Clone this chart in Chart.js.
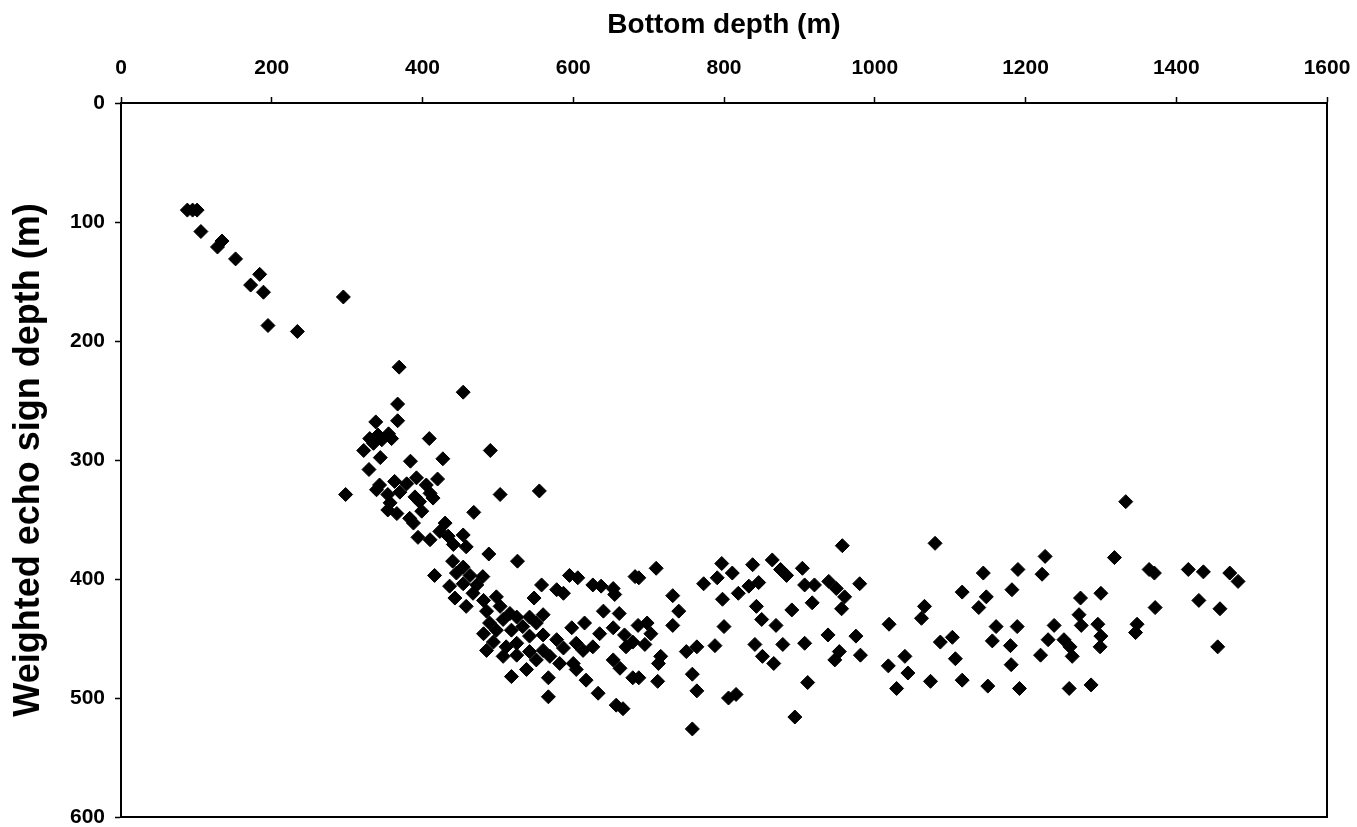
<!DOCTYPE html>
<html>
<head>
<meta charset="utf-8">
<script src="https://cdn.jsdelivr.net/npm/chart.js"></script>
<style>
  body { margin: 0; background: #fff; }
</style>
</head>
<body>
<canvas id="scatter1" width="1357" height="827"></canvas>
<script>
// bottom depth (m) and weighted echo sign depth (m)
const bottomDepth = [
    88, 95, 101, 106, 128, 134, 152, 184, 172, 189, 295, 195, 234,
    369, 454, 367, 338, 367, 409, 322, 490, 344, 384, 427, 329, 420, 298, 503,
    330, 341, 355, 359, 335, 346,
    555,
    343, 363, 379, 392, 405, 339, 354, 370, 390, 410, 357, 396, 414, 354, 366, 383, 399, 388,
    468,
    394, 410, 430, 423, 434, 454, 458, 441,
    488, 526, 416,
    440, 454, 445, 463, 480, 436, 454, 472, 443, 458, 467, 481, 498,
    485, 503, 516, 489, 507, 525, 542, 481, 498, 518, 533, 551, 485, 494, 511, 525, 542, 560, 578,
    507, 525, 542, 560, 551, 569, 587, 604, 613, 626, 582, 600, 518, 538, 567, 604, 617, 567, 633, 657, 666,
    548, 558, 578, 587, 595, 606, 626, 637, 653, 655, 682, 640, 661, 598, 615, 635, 653, 668, 686,
    670, 679, 653, 662, 679, 560,
    687, 710, 957, 1080, 732, 740, 732, 698, 703, 695, 716, 713, 687, 712, 750, 764, 758, 764, 806, 816,
    758, 773, 791, 797, 811, 798, 800, 788, 819, 833, 846, 838, 864, 875, 883, 843, 850, 869, 841, 878,
    851, 866, 890, 904, 907, 920, 939, 949, 960, 917, 956, 980, 907, 938, 975, 953, 947, 981, 911, 894,
    1019, 1066, 1062, 1040, 1018, 1044, 1029, 1074, 1087, 1103, 1107, 1116, 1116, 1144, 1148, 1138,
    1161, 1156, 1180, 1189, 1182, 1190, 1181, 1150, 1192, 1226, 1222, 1238, 1230, 1220, 1251, 1259,
    1262, 1273, 1271, 1274, 1300, 1296, 1300, 1299, 1258, 1287, 1318, 1348, 1346, 1364, 1371, 1372,
    1416, 1436, 1430, 1458, 1455, 1471, 1482, 1333
];
const echoDepth = [
    90, 90, 90, 108, 121, 116, 131, 144, 153, 159, 163, 187, 192,
    222, 243, 253, 268, 267, 282, 292, 292, 298, 301, 299, 308, 316, 329, 329,
    282, 279, 278, 282, 286, 283,
    326,
    321, 318, 320, 315, 321, 325, 329, 327, 331, 328, 336, 335, 332, 342, 345, 349, 343, 353,
    344,
    365, 367, 353, 360, 364, 363, 373, 371,
    379, 385, 397,
    385, 390, 395, 397, 398, 406, 404, 405, 416, 423, 412, 418, 415,
    427, 423, 429, 437, 434, 432, 432, 446, 443, 443, 440, 437, 460, 453, 457, 454, 448, 447, 451,
    465, 464, 461, 460, 468, 465, 458, 454, 460, 457, 471, 471, 482, 476, 483, 476, 485, 499, 496, 506, 509,
    416, 405, 409, 412, 397, 399, 405, 406, 408, 413, 398, 427, 429, 441, 437, 446, 441, 447, 439,
    457, 453, 468, 475, 483, 430,
    399, 391, 372, 370, 414, 427, 439, 437, 446, 455, 465, 471, 483, 486, 461, 457, 480, 494, 500, 497,
    526, 404, 399, 387, 395, 417, 440, 456, 412, 406, 403, 388, 384, 392, 397, 423, 434, 439, 455, 455,
    465, 471, 426, 391, 405, 405, 402, 408, 415, 420, 425, 404, 454, 447, 448, 461, 468, 464, 487, 516,
    438, 423, 433, 465, 473, 479, 492, 486, 453, 449, 467, 485, 411, 395, 415, 424,
    440, 452, 456, 440, 409, 392, 472, 490, 492, 381, 396, 439, 451, 464, 451, 457,
    465, 416, 430, 439, 412, 438, 448, 457, 492, 489, 382, 438, 445, 392, 395, 424,
    392, 394, 418, 425, 457, 395, 402, 335
];
const xTicks = [0, 200, 400, 600, 800, 1000, 1200, 1400, 1600];
const yTicks = [0, 100, 200, 300, 400, 500, 600];

const points = bottomDepth.map((x, i) => ({ x: x, y: echoDepth[i] }));

const tickFont = { family: 'Liberation Sans', size: 21, weight: 'bold' };

// box round the plot area
const frame = {
    id: 'frame',
    beforeDatasetsDraw(chart) {
        const ctx = chart.ctx;
        const a = chart.chartArea;
        ctx.save();
        ctx.strokeStyle = '#000';
        ctx.lineWidth = 2;
        ctx.strokeRect(a.left, a.top, a.right - a.left, a.bottom - a.top);
        ctx.restore();
    }
};

const c = document.getElementById('scatter1');
new Chart(c, {
    type: 'scatter',
    data: {
        datasets: [{
            label: 'Echo sign',
            data: points,
            pointStyle: 'rectRot',
            radius: 7,
            backgroundColor: '#000',
            borderColor: '#000',
            borderWidth: 1
        }]
    },
    options: {
        responsive: false,
        animation: false,
        layout: {
            padding: { top: 0, left: 0, right: 30, bottom: 10 }
        },
        plugins: {
            legend: { display: false },
            tooltip: { enabled: false }
        },
        scales: {
            x: {
                type: 'linear',
                position: 'top',
                min: 0,
                max: 1600,
                afterBuildTicks: (s) => { s.ticks = xTicks.map(v => ({ value: v })); },
                afterFit: (s) => {
                    s.height = 103;
                    s.paddingLeft = 0;
                    s.paddingRight = 0;
                },
                ticks: { color: '#000', font: tickFont, padding: 16, maxRotation: 0, callback: (v) => String(v) },
                grid: { drawOnChartArea: false, tickLength: 6, color: '#000', tickWidth: 1.5 },
                border: { color: '#000', width: 2 },
                title: {
                    display: true,
                    text: 'Bottom depth (m)',
                    color: '#000',
                    font: { family: 'Liberation Sans', size: 28, weight: 'bold' },
                    padding: { top: 8, bottom: 0 }
                }
            },
            y: {
                type: 'linear',
                reverse: true,
                min: 0,
                max: 600,
                afterBuildTicks: (s) => { s.ticks = yTicks.map(v => ({ value: v })); },
                afterFit: (s) => {
                    s.width = 121;
                    s.paddingTop = 0;
                    s.paddingBottom = 0;
                },
                ticks: { color: '#000', font: tickFont, padding: 10, callback: (v) => String(v) },
                grid: { drawOnChartArea: false, tickLength: 6, color: '#000', tickWidth: 1.5 },
                border: { color: '#000', width: 2 },
                title: {
                    display: true,
                    text: 'Weighted echo sign depth (m)',
                    color: '#000',
                    font: { family: 'Liberation Sans', size: 36, weight: 'bold' },
                    padding: { top: 7, bottom: 0 }
                }
            }
        }
    },
    plugins: [frame]
});
</script>
</body>
</html>
